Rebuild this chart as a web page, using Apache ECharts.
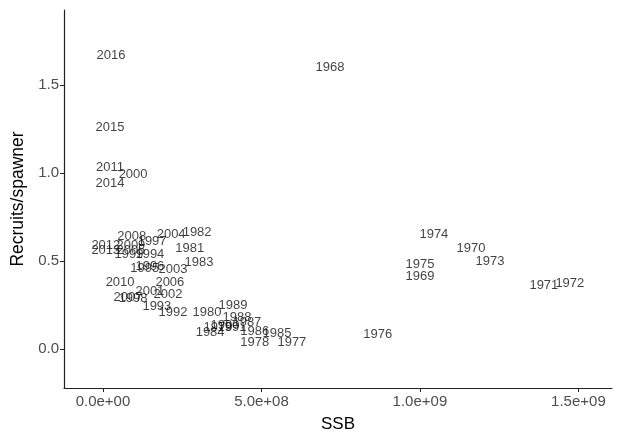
<!DOCTYPE html>
<html><head><meta charset="utf-8">
<script src="https://cdn.jsdelivr.net/npm/echarts@6/dist/echarts.min.js"></script>
<style>html,body{margin:0;padding:0;background:#fff}#c{width:621px;height:441px}</style>
</head><body><div id="c"></div>
<script>
const years = [1968,1969,1970,1971,1972,1973,1974,1975,1976,1977,1978,1979,1980,1981,1982,1983,1984,1985,1986,1987,1988,1989,1990,1991,1992,1993,1994,1995,1996,1997,1998,1999,2000,2001,2002,2003,2004,2005,2006,2007,2008,2009,2010,2011,2012,2013,2014,2015,2016];
const ssb = [7.16e8,1.00e9,1.161e9,1.391e9,1.473e9,1.221e9,1.044e9,1.00e9,0.867e9,5.96e8,4.79e8,3.63e8,3.28e8,2.74e8,2.97e8,3.03e8,3.38e8,5.49e8,4.79e8,4.54e8,4.23e8,4.10e8,3.85e8,4.07e8,2.21e8,1.70e8,1.48e8,1.32e8,1.48e8,1.55e8,0.95e8,0.82e8,0.95e8,1.48e8,2.05e8,2.21e8,2.15e8,0.88e8,2.11e8,0.79e8,0.91e8,0.88e8,0.54e8,0.22e8,0.09e8,0.09e8,0.22e8,0.22e8,0.25e8];
const rps = [1.60,0.415,0.57,0.36,0.375,0.50,0.65,0.48,0.085,0.04,0.04,0.125,0.205,0.57,0.665,0.49,0.097,0.09,0.10,0.15,0.18,0.25,0.135,0.12,0.205,0.24,0.54,0.46,0.47,0.61,0.285,0.54,0.99,0.325,0.31,0.45,0.65,0.56,0.38,0.295,0.64,0.59,0.38,1.03,0.59,0.56,0.94,1.26,1.67];
const xTickValues = [0, 5e8, 1e9, 1.5e9];
const xTickLabels = ['0.0e+00','5.0e+08','1.0e+09','1.5e+09'];
const yTickValues = [0, 0.5, 1.0, 1.5];
const yTickLabels = ['0.0','0.5','1.0','1.5'];

const chart = echarts.init(document.getElementById('c'), null, {renderer:'canvas'});
const pts = years.map((y,i)=>[ssb[i], rps[i], y]);
const font = 'Liberation Sans, Arial, sans-serif';
chart.setOption({
  animation:false,
  backgroundColor:'#fff',
  grid:{left:64, right:9, top:10, bottom:53},
  xAxis:{
    type:'value', min:-1.23e8, max:1.606e9,
    name:'SSB', nameLocation:'middle', nameGap:28,
    nameTextStyle:{fontFamily:font, fontSize:17, color:'#000'},
    axisLine:{show:true, onZero:false, lineStyle:{color:'#222', width:1.2}},
    axisTick:{show:true, length:4, customValues:xTickValues, lineStyle:{color:'#222'}},
    splitLine:{show:false},
    axisLabel:{customValues:xTickValues, fontFamily:font, fontSize:15, color:'#4d4d4d', margin:6,
      formatter:v=>xTickLabels[xTickValues.indexOf(v)] ?? ''},
  },
  yAxis:{
    type:'value', min:-0.2216, max:1.926,
    name:'Recruits/spawner', nameLocation:'middle', nameGap:35,
    nameTextStyle:{fontFamily:font, fontSize:17.5, color:'#000'},
    axisLine:{show:true, onZero:false, lineStyle:{color:'#222', width:1.2}},
    axisTick:{show:true, length:4, customValues:yTickValues, lineStyle:{color:'#222'}},
    splitLine:{show:false},
    axisLabel:{customValues:yTickValues, fontFamily:font, fontSize:15, color:'#4d4d4d', margin:5,
      formatter:v=>yTickLabels[yTickValues.indexOf(v)] ?? ''},
  },
  series:[{
    type:'scatter', data:pts, symbolSize:0,
    label:{show:true, position:'inside', formatter:p=>String(p.value[2]),
      fontFamily:font, fontSize:13, color:'#111'},
    labelLayout:{hideOverlap:false}
  }]
});
</script></body></html>
